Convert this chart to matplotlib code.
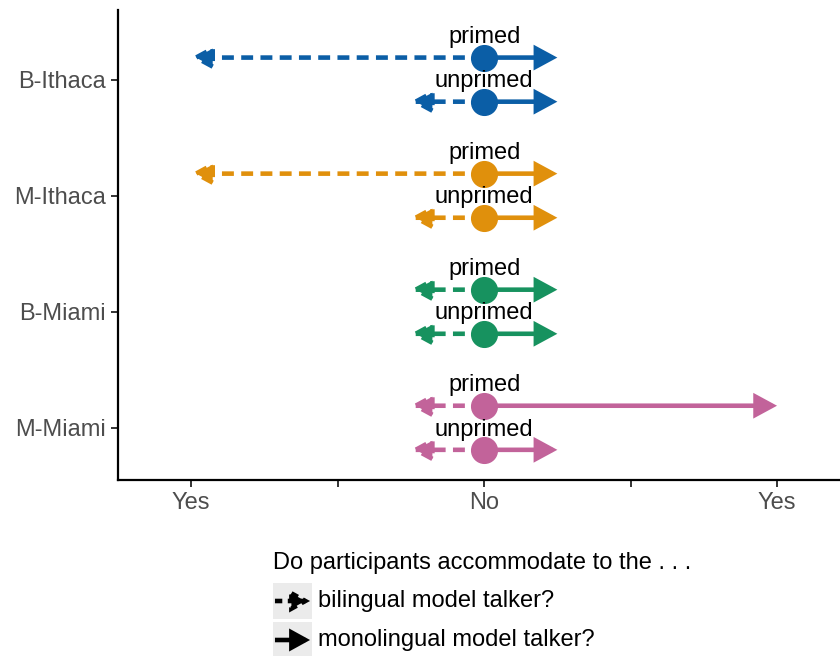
import matplotlib.pyplot as plt
import numpy as np

plt.rcParams['font.family'] = ['Liberation Sans', 'DejaVu Sans']

# Data: arrow ends (0 = "No"; leftwards = bilingual talker, rightwards = monolingual talker)
groups = ['B-Ithaca', 'M-Ithaca', 'B-Miami', 'M-Miami']
colors = ['#0B5EA6', '#E0900C', '#17925F', '#C2639A']
bil_primed = [-2, -2, -0.5, -0.5]
bil_unprimed = [-0.5, -0.5, -0.5, -0.5]
mono_primed = [0.5, 0.5, 0.5, 2]
mono_unprimed = [0.5, 0.5, 0.5, 0.5]
x_ticks = [-2, -1, 0, 1, 2]
x_labels = ['Yes', '', 'No', '', 'Yes']

fig = plt.figure(figsize=(8.4, 6.56), dpi=100)
ax = fig.add_axes([118 / 840, 1 - 480 / 656, 1 - 118 / 840, 470 / 656])

ypos = np.arange(len(groups))[::-1] + 1  # B-Ithaca on top
off = 0.19
lw = 3.3
dash = (0, (2.6, 1.6))
head = '-|>,head_length=1.2,head_width=0.65'


def arrow(ax, x0, x1, y, color, ls, style=head):
    ax.annotate('', xy=(x1, y), xytext=(x0, y), xycoords='data',
                arrowprops=dict(arrowstyle=style, color=color, lw=lw, linestyle=ls,
                                shrinkA=0, shrinkB=0, mutation_scale=10,
                                joinstyle='miter', capstyle='butt'))


for i, g in enumerate(groups):
    y = ypos[i]
    c = colors[i]
    for yy, b, m, lab in [(y + off, bil_primed[i], mono_primed[i], 'primed'),
                          (y - off, bil_unprimed[i], mono_unprimed[i], 'unprimed')]:
        arrow(ax, 0, b, yy, c, dash)
        arrow(ax, 0, m, yy, c, '-')
        ax.plot([0], [yy], 'o', color=c, markersize=18.5, zorder=5)
        ax.text(0, yy + 0.175, lab, ha='center', va='center', fontsize=17, color='black', zorder=6)

ax.set_xlim(-2.5, 2.43)
ax.set_ylim(0.55, 4.6)
ax.set_yticks(ypos)
ax.set_yticklabels(groups)
ax.set_xticks(x_ticks)
ax.set_xticklabels(x_labels)
ax.tick_params(labelsize=17, labelcolor='#4D4D4D', color='#333333', width=1.4, length=5)
for s in ['top', 'right']:
    ax.spines[s].set_visible(False)
for s in ['left', 'bottom']:
    ax.spines[s].set_linewidth(1.6)

# legend drawn by hand
fig.text(273 / 840, 1 - 563 / 656, 'Do participants accommodate to the . . .',
         fontsize=17, va='center', ha='left')
legend_items = [('bilingual model talker?', (0, (1.6, 1.2)), 601), ('monolingual model talker?', '-', 640)]
for lab, ls, yc in legend_items:
    kax = fig.add_axes([273 / 840, 1 - (yc + 18) / 656, 39 / 840, 36 / 656])
    kax.set_facecolor('#EBEBEB')
    kax.set_xlim(0, 1)
    kax.set_ylim(0, 1)
    kax.set_xticks([])
    kax.set_yticks([])
    for s in kax.spines.values():
        s.set_visible(False)
    kax.annotate('', xy=(0.95, 0.5), xytext=(0.05, 0.5),
                 arrowprops=dict(arrowstyle='-|>,head_length=1.0,head_width=0.55',
                                 color='black', lw=lw, linestyle=ls,
                                 shrinkA=0, shrinkB=0, mutation_scale=10,
                                 joinstyle='miter', capstyle='butt'))
    fig.text(318 / 840, 1 - yc / 656, lab, fontsize=17, va='center', ha='left')

fig.savefig('out.png', dpi=100)
